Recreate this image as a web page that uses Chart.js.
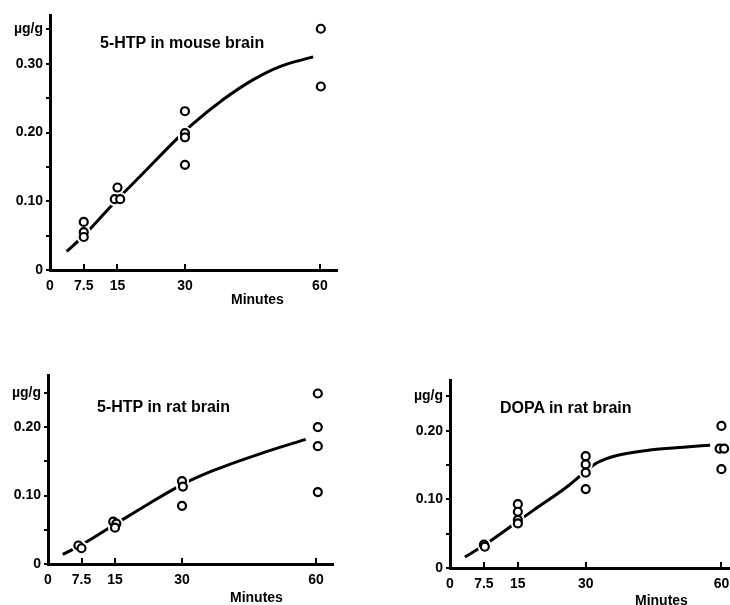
<!DOCTYPE html>
<html lang="en">
<head>
<meta charset="UTF-8">
<title>5-HTP and DOPA in brain</title>
<script src="https://cdn.jsdelivr.net/npm/chart.js@4"></script>
<style>
  * { margin: 0; padding: 0; box-sizing: border-box; }
  body {
    width: 730px;
    height: 605px;
    background: #fff;
    position: relative;
    overflow: hidden;
    font-family: 'Liberation Sans', Arial, sans-serif;
    color: #000;
  }
  .panel { position: absolute; }
  .label { position: absolute; font-weight: bold; line-height: 16px; white-space: nowrap; }
  .title { font-size: 16px; }
  .minutes { font-size: 14px; }
</style>
</head>
<body>
  <canvas id="mouseChart" class="panel" width="360" height="300" style="left:0;top:0"></canvas>
  <canvas id="ratHtpChart" class="panel" width="360" height="245" style="left:0;top:360px"></canvas>
  <!-- right panel runs past the page edge, like the cropped original -->
  <canvas id="dopaChart" class="panel" width="380" height="245" style="left:370px;top:360px"></canvas>

  <div class="label title" style="left:100px;top:35px">5-HTP in mouse brain</div>
  <div class="label minutes" style="left:231px;top:291px">Minutes</div>
  <div class="label title" style="left:97px;top:399px">5-HTP in rat brain</div>
  <div class="label minutes" style="left:230px;top:589px">Minutes</div>
  <div class="label title" style="left:500px;top:400px">DOPA in rat brain</div>
  <div class="label minutes" style="left:635px;top:592px">Minutes</div>

<script>
// x axis, minutes (same for all three panels)
const xTicks = [0, 7.5, 15, 30, 60];
const xTickLabels = ['0', '7.5', '15', '30', '60'];

// 5-HTP in mouse brain
const mouseTicks = [0, 0.05, 0.10, 0.15, 0.20, 0.25, 0.30, 0.35];
const mouseTickLabels = ['0', '', '0.10', '', '0.20', '', '0.30', 'µg/g'];
const mouseMinutes = [7.5, 7.5, 7.5, 15, 14.4, 15.6, 30, 30, 30, 30, 60.2, 60.2];
const mouseLevels = [0.070, 0.055, 0.048, 0.120, 0.103, 0.103, 0.231, 0.199, 0.193, 0.153, 0.351, 0.267];
const mouseCurveMinutes = [3.7, 7.5, 15, 20, 28.1, 31.5, 38.5, 45.2, 51.1, 58.5];
const mouseCurveLevels = [0.027, 0.050, 0.103, 0.136, 0.190, 0.211, 0.248, 0.277, 0.296, 0.310];

// 5-HTP in rat brain
const ratTicks = [0, 0.05, 0.10, 0.15, 0.20, 0.25];
const ratTickLabels = ['0', '', '0.10', '', '0.20', 'µg/g'];
const ratHtpMinutes = [6.8, 7.5, 14.6, 15.3, 15, 30, 30.2, 30, 60.4, 60.4, 60.4, 60.4];
const ratHtpLevels = [0.027, 0.023, 0.062, 0.059, 0.053, 0.121, 0.113, 0.085, 0.249, 0.200, 0.172, 0.105];
const ratHtpCurveMinutes = [3.3, 7.5, 15, 22.3, 30, 37.2, 48.4, 57.7];
const ratHtpCurveLevels = [0.014, 0.028, 0.058, 0.087, 0.116, 0.137, 0.163, 0.182];

// DOPA in rat brain
const dopaMinutes = [7.5, 7.7, 15, 15, 15, 15, 30, 30, 30, 30, 60, 59.6, 60.6, 60];
const dopaLevels = [0.034, 0.031, 0.093, 0.082, 0.070, 0.065, 0.163, 0.151, 0.139, 0.115, 0.207, 0.174, 0.174, 0.144];
const dopaCurveMinutes = [3.3, 7.5, 18.4, 25.8, 30, 32.4, 36.9, 44.2, 51.6, 57.5];
const dopaCurveLevels = [0.016, 0.033, 0.084, 0.118, 0.141, 0.153, 0.164, 0.172, 0.176, 0.179];

const tickFont = { family: "'Liberation Sans', Arial, sans-serif", size: 14, weight: 'bold' };

function pts(xs, ys) {
  return xs.map((x, i) => ({ x: x, y: ys[i] }));
}

// small tick marks on the x axis, pointing up into the plot
const innerTicks = {
  id: 'innerTicks',
  afterDraw(chart) {
    const x = chart.scales.x, y = chart.scales.y, ctx = chart.ctx;
    ctx.save();
    ctx.strokeStyle = '#000';
    ctx.lineWidth = 2;
    xTicks.slice(1).forEach(v => {
      const px = Math.round(x.getPixelForValue(v));
      if (px > x.right) return;
      ctx.beginPath();
      ctx.moveTo(px, y.bottom);
      ctx.lineTo(px, y.bottom - 6);
      ctx.stroke();
    });
    ctx.restore();
  }
};

function makePanel(id, o) {
  new Chart(document.getElementById(id), {
    type: 'scatter',
    data: {
      datasets: [
        { data: pts(o.minutes, o.levels), pointRadius: 4, pointBorderWidth: 2.2,
          pointBorderColor: '#000', pointBackgroundColor: '#fff', order: 1 },
        // white halo so the curve breaks around the circles
        { data: pts(o.minutes, o.levels), pointRadius: 7, pointBorderWidth: 0,
          pointBackgroundColor: '#fff', pointBorderColor: '#fff', order: 2 },
        { data: pts(o.curveMinutes, o.curveLevels), showLine: true, borderColor: '#000',
          borderWidth: 3, pointRadius: 0, cubicInterpolationMode: 'monotone', order: 3 }
      ]
    },
    options: {
      responsive: false,
      animation: false,
      layout: { padding: { top: o.top, right: o.right, left: 0, bottom: 0 } },
      plugins: { legend: { display: false }, tooltip: { enabled: false } },
      scales: {
        x: {
          type: 'linear', min: 0, max: o.xMax,
          afterFit: s => { s.height = o.xHeight; },
          afterBuildTicks: s => { s.ticks = xTicks.map(v => ({ value: v })); },
          grid: { display: false, drawTicks: false },
          border: { display: true, color: '#000', width: 3 },
          ticks: { autoSkip: false, maxRotation: 0, padding: 8, color: '#000', font: tickFont,
                   callback: (v, i) => xTickLabels[i] }
        },
        y: {
          type: 'linear', min: 0, max: o.yMax,
          afterFit: s => { s.width = o.yWidth; },
          afterBuildTicks: s => { s.ticks = o.yTicks.map(v => ({ value: v })); },
          grid: { drawOnChartArea: false, drawTicks: true, tickLength: 4, color: '#000', lineWidth: 2 },
          border: { display: true, color: '#000', width: 3 },
          ticks: { autoSkip: false, padding: 3, color: '#000', font: tickFont,
                   callback: (v, i) => o.yLabels[i] }
        }
      }
    },
    plugins: [innerTicks]
  });
}

makePanel('mouseChart', {
  minutes: mouseMinutes, levels: mouseLevels,
  curveMinutes: mouseCurveMinutes, curveLevels: mouseCurveLevels,
  yTicks: mouseTicks, yLabels: mouseTickLabels,
  xMax: 63.8, yMax: 0.371, top: 15, right: 23, yWidth: 50, xHeight: 30
});

makePanel('ratHtpChart', {
  minutes: ratHtpMinutes, levels: ratHtpLevels,
  curveMinutes: ratHtpCurveMinutes, curveLevels: ratHtpCurveLevels,
  yTicks: ratTicks, yLabels: ratTickLabels,
  xMax: 63.8, yMax: 0.276, top: 15, right: 27, yWidth: 48, xHeight: 41
});

makePanel('dopaChart', {
  minutes: dopaMinutes, levels: dopaLevels,
  curveMinutes: dopaCurveMinutes, curveLevels: dopaCurveLevels,
  yTicks: ratTicks, yLabels: ratTickLabels,
  xMax: 63.0, yMax: 0.274, top: 20, right: 15, yWidth: 80, xHeight: 37
});
</script>
</body>
</html>
